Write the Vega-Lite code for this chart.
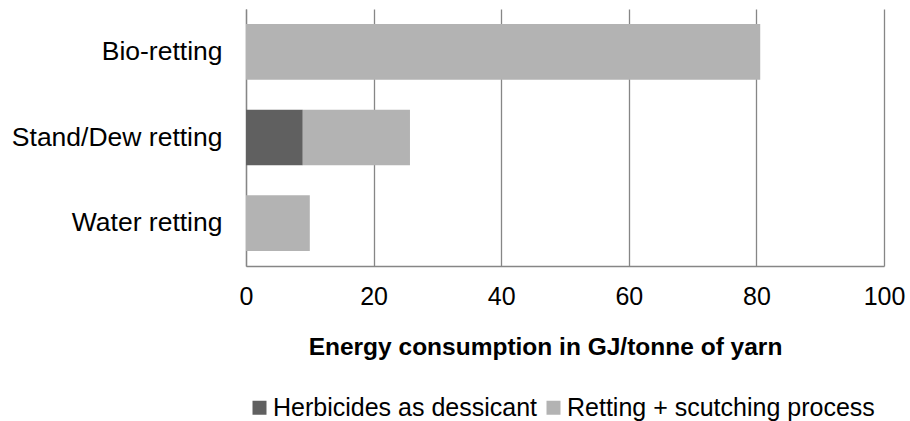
{
  "$schema": "https://vega.github.io/schema/vega-lite/v6.json",
  "width": 638,
  "height": 257,
  "autosize": {"type": "none"},
  "padding": {"left": 246, "top": 9, "right": 26, "bottom": 155},
  "background": "white",
  "config": {
    "font": "Liberation Sans",
    "view": {"stroke": null}
  },
  "data": {
    "values": [
      {"method": "Bio-retting", "component": "Retting + scutching process", "value": 80.6},
      {"method": "Stand/Dew retting", "component": "Herbicides as dessicant", "value": 8.9},
      {"method": "Stand/Dew retting", "component": "Retting + scutching process", "value": 16.8},
      {"method": "Water retting", "component": "Retting + scutching process", "value": 10.0}
    ]
  },
  "mark": {"type": "bar"},
  "encoding": {
    "y": {
      "field": "method",
      "type": "nominal",
      "sort": ["Bio-retting", "Stand/Dew retting", "Water retting"],
      "scale": {"paddingInner": 0.35, "paddingOuter": 0.175},
      "axis": {
        "title": null,
        "ticks": false,
        "domain": true,
        "domainColor": "#868686",
        "domainWidth": 1.3,
        "labelFontSize": 26.5,
        "labelColor": "#000000",
        "labelPadding": 24,
        "labelLimit": 300,
        "grid": false
      }
    },
    "x": {
      "field": "value",
      "type": "quantitative",
      "stack": "zero",
      "scale": {"domain": [0, 100], "nice": false},
      "axis": {
        "values": [0, 20, 40, 60, 80, 100],
        "title": "Energy consumption in GJ/tonne of yarn",
        "titleFontSize": 24.5,
        "titleFontWeight": "bold",
        "titleColor": "#000000",
        "titlePadding": 26,
        "titleX": 299,
        "titleAlign": "center",
        "ticks": false,
        "domain": true,
        "domainColor": "#868686",
        "domainWidth": 1.3,
        "grid": true,
        "gridColor": "#868686",
        "gridWidth": 1.3,
        "labelFontSize": 25,
        "labelColor": "#000000",
        "labelPadding": 18,
        "labelFlush": false
      }
    },
    "color": {
      "field": "component",
      "type": "nominal",
      "scale": {
        "domain": ["Herbicides as dessicant", "Retting + scutching process"],
        "range": ["#606060", "#b3b3b3"]
      },
      "legend": {
        "title": null,
        "orient": "none",
        "legendX": 1,
        "legendY": 386,
        "direction": "horizontal",
        "columns": 2,
        "columnPadding": 3,
        "symbolType": "square",
        "symbolSize": 196,
        "symbolStrokeWidth": 0,
        "labelFontSize": 25,
        "labelColor": "#000000",
        "labelOffset": 1,
        "labelLimit": 400
      }
    },
    "order": {"field": "component", "type": "nominal"}
  }
}
